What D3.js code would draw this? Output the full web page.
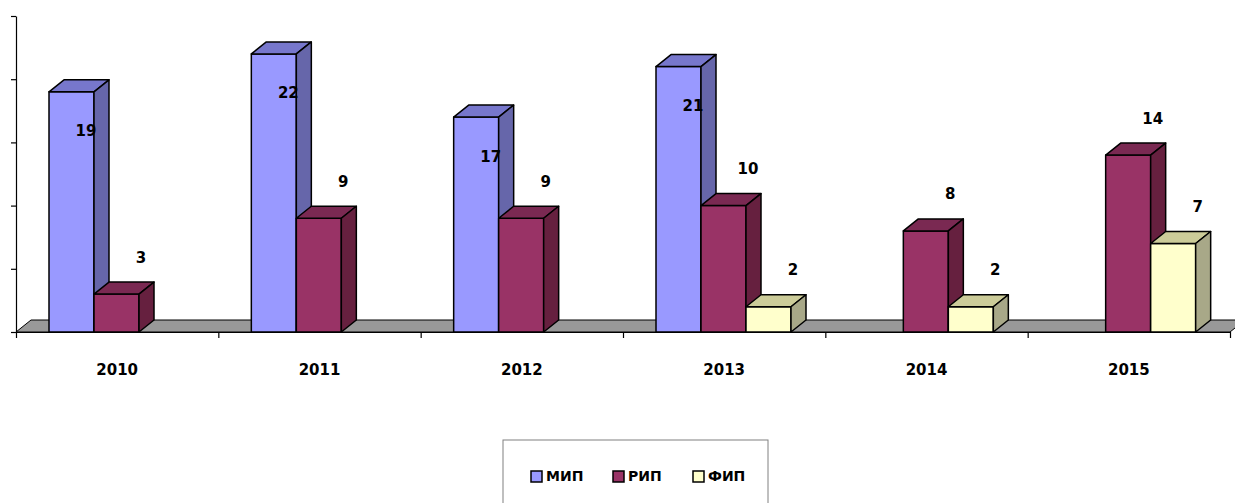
<!DOCTYPE html>
<html>
<head>
<meta charset="utf-8">
<script src="https://cdn.jsdelivr.net/npm/d3@7"></script>
<style>
  body { margin: 0; background: #fff; }
  text { font-family: "DejaVu Sans", Verdana, sans-serif; }
</style>
</head>
<body>
<svg id="chart" width="1235" height="503"></svg>
<script>
// data
var years = ["2010", "2011", "2012", "2013", "2014", "2015"];
var seriesNames = ["МИП", "РИП", "ФИП"];
var mip = [19, 22, 17, 21, 0, 0];
var rip = [3, 9, 9, 10, 8, 14];
var fip = [0, 0, 0, 2, 2, 7];
var yTicks = [0, 5, 10, 15, 20, 25];

var seriesValues = [mip, rip, fip];
var front = ["#9999ff", "#993366", "#ffffcc"];
var topC = ["#7777cc", "#7a2952", "#cccc99"];
var sideC = ["#6666aa", "#66203f", "#a8a888"];

var svg = d3.select("#chart");
var x0 = 16, x1 = 1230, yBase = 332, yTop = 16;
var dx = 15, dy = -12;

var x = d3.scaleBand().domain(years).range([x0, x1]);
// three bars ~45px wide, centred in each ~202px category
var xs = d3.scaleBand().domain(d3.range(3)).range([33, 33 + 135]);
var y = d3.scaleLinear().domain([0, 25]).range([yBase, yTop]);

// floor
svg.append("path")
    .attr("d", "M" + x0 + "," + yBase + " L" + x1 + "," + yBase +
        " L" + (x1 + dx) + "," + (yBase + dy) + " L" + (x0 + dx) + "," + (yBase + dy) + "Z")
    .attr("fill", "#999999")
    .attr("stroke", "#000")
    .attr("stroke-width", 1);

// bars
years.forEach(function (yr, i) {
    seriesValues.forEach(function (vals, s) {
        var v = vals[i];
        if (!v) return;
        var bx = x(yr) + xs(s), bw = xs.bandwidth();
        var by = y(v);
        var g = svg.append("g")
            .attr("stroke", "#000")
            .attr("stroke-width", 1.5)
            .attr("stroke-linejoin", "round");
        g.append("rect")
            .attr("x", bx).attr("y", by)
            .attr("width", bw).attr("height", yBase - by)
            .attr("fill", front[s]);
        g.append("path")
            .attr("d", "M" + bx + "," + by + " L" + (bx + dx) + "," + (by + dy) +
                " L" + (bx + bw + dx) + "," + (by + dy) + " L" + (bx + bw) + "," + by + "Z")
            .attr("fill", topC[s]);
        g.append("path")
            .attr("d", "M" + (bx + bw) + "," + by + " L" + (bx + bw + dx) + "," + (by + dy) +
                " L" + (bx + bw + dx) + "," + (yBase + dy) + " L" + (bx + bw) + "," + yBase + "Z")
            .attr("fill", sideC[s]);
    });
});

// value labels
years.forEach(function (yr, i) {
    seriesValues.forEach(function (vals, s) {
        var v = vals[i];
        if (!v) return;
        var bx = x(yr) + xs(s), bw = xs.bandwidth();
        svg.append("text")
            .attr("x", bx + bw + (s == 0 ? -8 : 2))
            .attr("y", y(v) + (s == 0 ? 40 : -36))
            .attr("text-anchor", "middle")
            .attr("dominant-baseline", "middle")
            .style("font-size", "15px")
            .style("font-weight", "bold")
            .text(v);
    });
});

// y axis
svg.append("g")
    .attr("transform", "translate(" + x0 + ",0)")
    .call(d3.axisLeft(y).tickValues(yTicks).tickFormat("").tickSize(5).tickSizeOuter(0))
    .call(function (g) { g.selectAll("path,line").attr("stroke", "#000").attr("stroke-width", 1.2); });

// x axis with ticks between categories
var xl = d3.scaleLinear().domain([0, years.length]).range([x0, x1]);
svg.append("g")
    .attr("transform", "translate(0," + yBase + ")")
    .call(d3.axisBottom(xl).tickValues(d3.range(years.length + 1)).tickFormat("").tickSize(6).tickSizeOuter(0))
    .call(function (g) { g.selectAll("path,line").attr("stroke", "#000").attr("stroke-width", 1.2); });

svg.selectAll(".yr")
    .data(years)
    .enter()
    .append("text")
    .attr("x", function (d) { return x(d) + x.bandwidth() / 2; })
    .attr("y", 370)
    .attr("text-anchor", "middle")
    .attr("dominant-baseline", "middle")
    .style("font-size", "15px")
    .style("font-weight", "bold")
    .text(function (d) { return d; });

// legend
svg.append("rect")
    .attr("x", 503).attr("y", 440)
    .attr("width", 265).attr("height", 80)
    .attr("fill", "#fff")
    .attr("stroke", "#808080")
    .attr("stroke-width", 1);

var legX = [531, 613, 693];
seriesNames.forEach(function (name, s) {
    svg.append("rect")
        .attr("x", legX[s]).attr("y", 471)
        .attr("width", 11).attr("height", 11)
        .attr("fill", front[s])
        .attr("stroke", "#000")
        .attr("stroke-width", 1.5);
    svg.append("text")
        .attr("x", legX[s] + 15)
        .attr("y", 477)
        .attr("dominant-baseline", "middle")
        .style("font-size", "14px")
        .style("font-weight", "bold")
        .text(name);
});
</script>
</body>
</html>
